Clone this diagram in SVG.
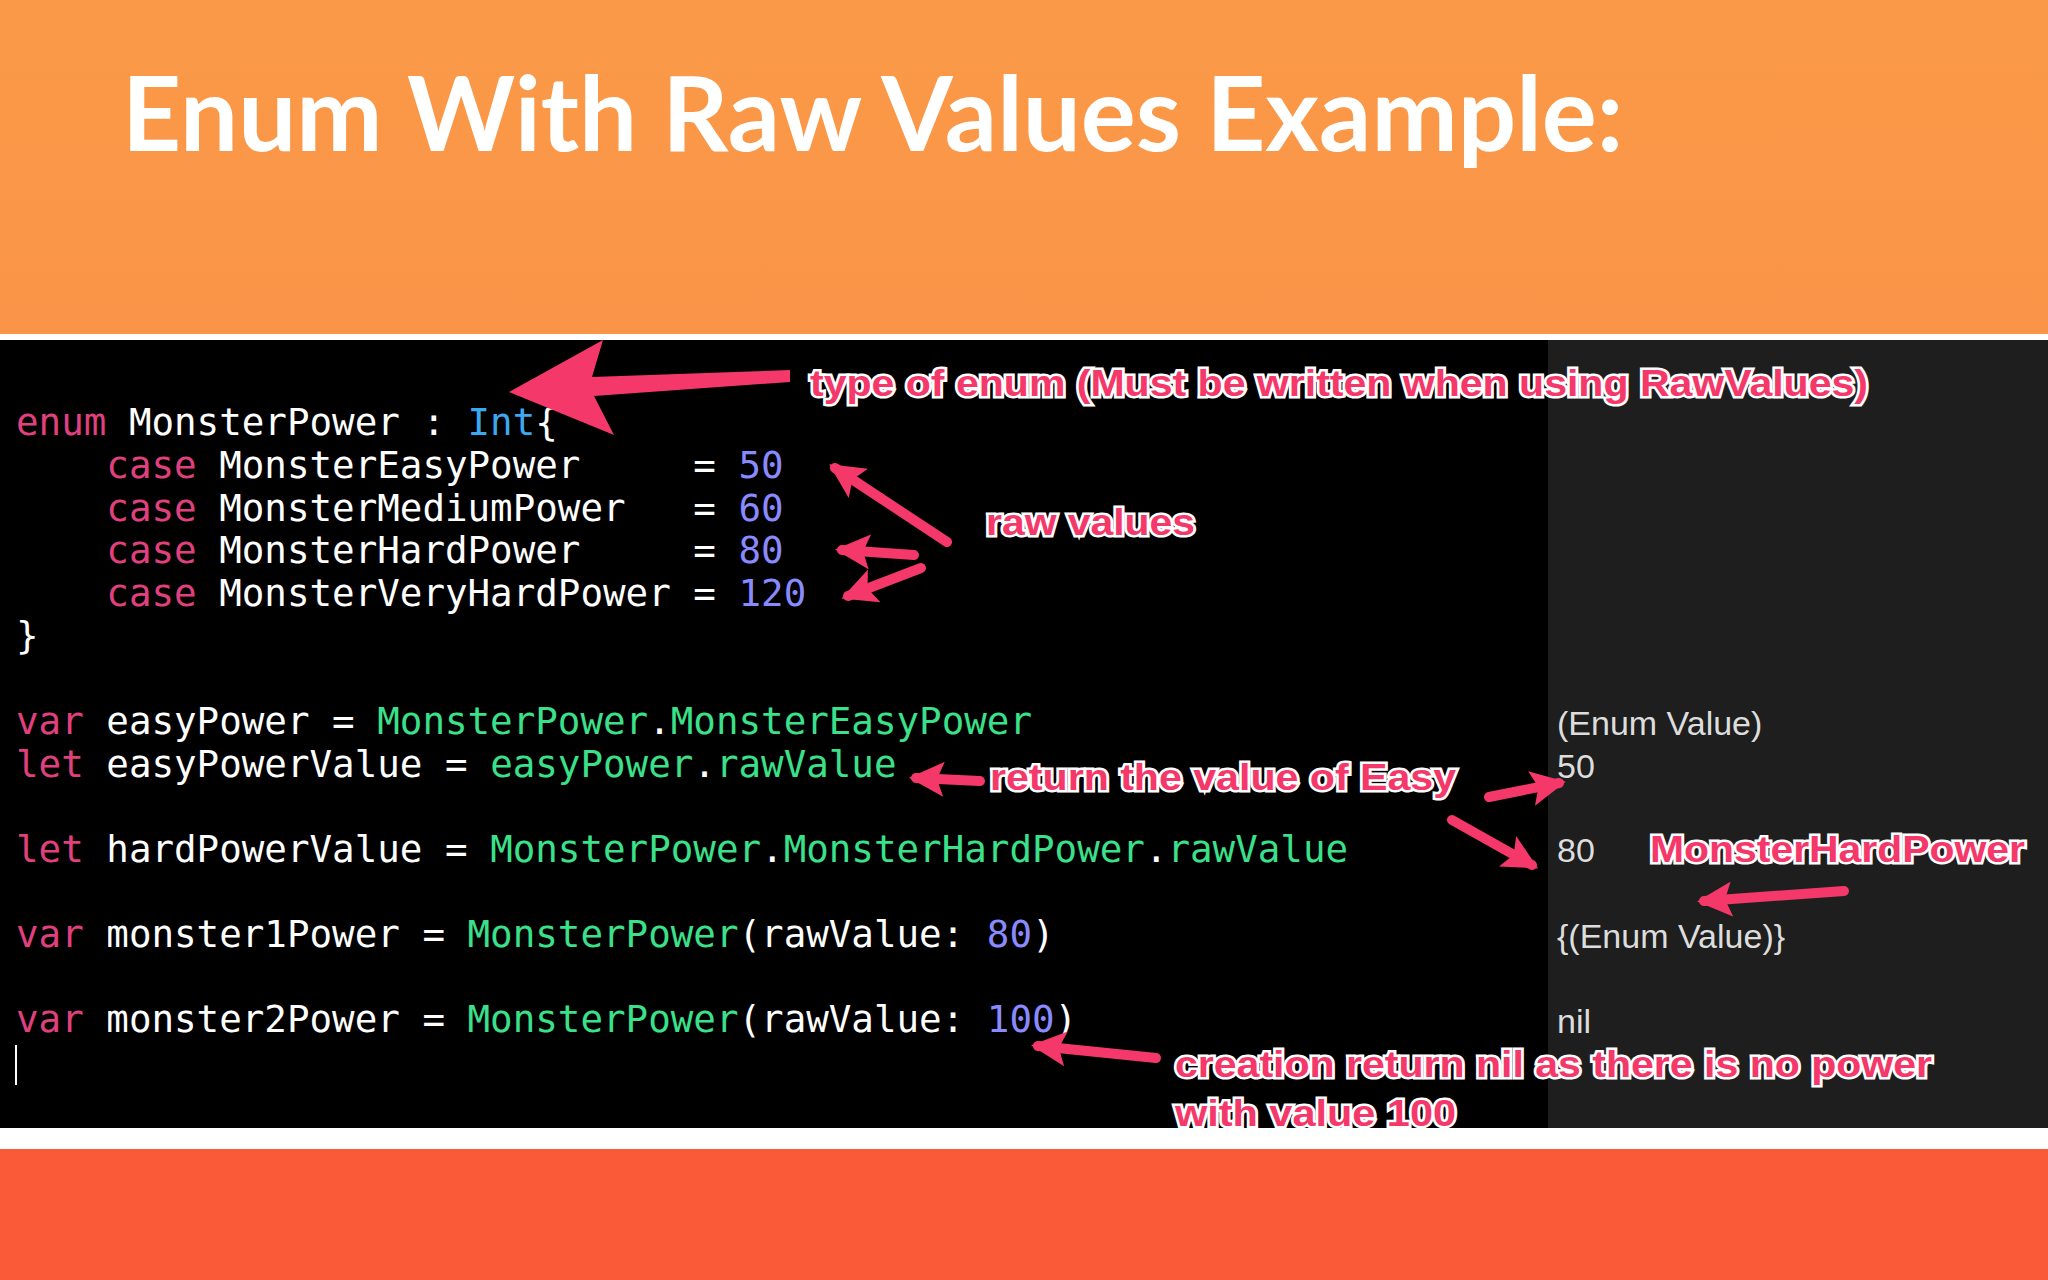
<svg xmlns="http://www.w3.org/2000/svg" width="2048" height="1280" viewBox="0 0 2048 1280">
<defs>
<linearGradient id="top" x1="0" y1="0" x2="0" y2="1"><stop offset="0" stop-color="#FA9A48"/><stop offset="1" stop-color="#FA9448"/></linearGradient>
<marker id="ah" viewBox="0 0 10 10" refX="8" refY="5" markerWidth="3.5" markerHeight="3.5" orient="auto" markerUnits="strokeWidth"><path d="M0,0 L10,5 L0,10 L2,5 z" fill="#F5386A"/></marker>
</defs>
<style>
.code{font-family:"DejaVu Sans Mono",monospace;font-size:37.5px;fill:#FFFFFF;white-space:pre}
.k{fill:#E0407E}.g{fill:#3BE08A}.n{fill:#8A8AFF}.b{fill:#3DA8F0}
.res{font-family:"Liberation Sans",Arial,sans-serif;font-size:34px;fill:#DDDDDD}
.ann{font-family:"Liberation Sans",Arial,sans-serif;font-weight:bold;font-size:37px;fill:#F5386A;stroke:#FFFFFF;stroke-width:5px;paint-order:stroke}
.arr{stroke:#F5386A;stroke-width:10;fill:none;marker-end:url(#ah);stroke-linecap:round}
</style>
<rect x="0" y="0" width="2048" height="334" fill="url(#top)"/>
<rect x="0" y="334" width="2048" height="6" fill="#FFFFFF"/>
<rect x="0" y="340" width="2048" height="788" fill="#000000"/>
<rect x="1548" y="340" width="500" height="788" fill="#1E1E1E"/>
<rect x="0" y="1128" width="2048" height="21" fill="#FFFFFF"/>
<rect x="0" y="1149" width="2048" height="131" fill="#FA5A38"/>
<text x="122" y="151" font-family="Lato,sans-serif" font-weight="bold" font-size="103" fill="#FFFFFF">Enum With Raw Values Example:</text>
<g id="code">
<text class="code" x="16" y="435"><tspan class="k">enum</tspan> MonsterPower : <tspan class="b">Int</tspan>{</text>
<text class="code" x="16" y="478">    <tspan class="k">case</tspan> MonsterEasyPower     = <tspan class="n">50</tspan></text>
<text class="code" x="16" y="521">    <tspan class="k">case</tspan> MonsterMediumPower   = <tspan class="n">60</tspan></text>
<text class="code" x="16" y="563">    <tspan class="k">case</tspan> MonsterHardPower     = <tspan class="n">80</tspan></text>
<text class="code" x="16" y="606">    <tspan class="k">case</tspan> MonsterVeryHardPower = <tspan class="n">120</tspan></text>
<text class="code" x="16" y="648">}</text>
<text class="code" x="16" y="734"><tspan class="k">var</tspan> easyPower = <tspan class="g">MonsterPower</tspan>.<tspan class="g">MonsterEasyPower</tspan></text>
<text class="code" x="16" y="777"><tspan class="k">let</tspan> easyPowerValue = <tspan class="g">easyPower</tspan>.<tspan class="g">rawValue</tspan></text>
<text class="code" x="16" y="862"><tspan class="k">let</tspan> hardPowerValue = <tspan class="g">MonsterPower</tspan>.<tspan class="g">MonsterHardPower</tspan>.<tspan class="g">rawValue</tspan></text>
<text class="code" x="16" y="947"><tspan class="k">var</tspan> monster1Power = <tspan class="g">MonsterPower</tspan>(rawValue: <tspan class="n">80</tspan>)</text>
<text class="code" x="16" y="1032"><tspan class="k">var</tspan> monster2Power = <tspan class="g">MonsterPower</tspan>(rawValue: <tspan class="n">100</tspan>)</text>
<line x1="16" y1="1045" x2="16" y2="1085" stroke="#FFFFFF" stroke-width="2"/>
</g>
<g id="results">
<text class="res" x="1557" y="735">(Enum Value)</text>
<text class="res" x="1557" y="778">50</text>
<text class="res" x="1557" y="862">80</text>
<text class="res" x="1557" y="948">{(Enum Value)}</text>
<text class="res" x="1557" y="1033">nil</text>
</g>
<g id="annotations">
<text class="ann" x="810" y="396" textLength="1058" lengthAdjust="spacingAndGlyphs">type of enum (Must be written when using RawValues)</text>
<text class="ann" x="986" y="535" textLength="209" lengthAdjust="spacingAndGlyphs">raw values</text>
<text class="ann" x="990" y="790" textLength="466" lengthAdjust="spacingAndGlyphs">return the value of Easy</text>
<text class="ann" x="1650" y="862" textLength="375" lengthAdjust="spacingAndGlyphs">MonsterHardPower</text>
<text class="ann" x="1175" y="1077" textLength="757" lengthAdjust="spacingAndGlyphs">creation return nil as there is no power</text>
<text class="ann" x="1175" y="1126" textLength="281" lengthAdjust="spacingAndGlyphs">with value 100</text>
</g>
<g id="connectors">
<path d="M509,392 L603,340 L592,377 L790,370 L790,382 L594,396 L614,435 Z" fill="#F5386A"/>
<line class="arr" x1="947" y1="542" x2="835" y2="468"/>
<line class="arr" x1="914" y1="555" x2="842" y2="550"/>
<line class="arr" x1="921" y1="568" x2="848" y2="596"/>
<line class="arr" x1="980" y1="781" x2="916" y2="778"/>
<line class="arr" x1="1489" y1="797" x2="1559" y2="783"/>
<line class="arr" x1="1452" y1="820" x2="1532" y2="865"/>
<line class="arr" x1="1844" y1="891" x2="1704" y2="901"/>
<line class="arr" x1="1156" y1="1058" x2="1038" y2="1046"/>
</g>
</svg>
